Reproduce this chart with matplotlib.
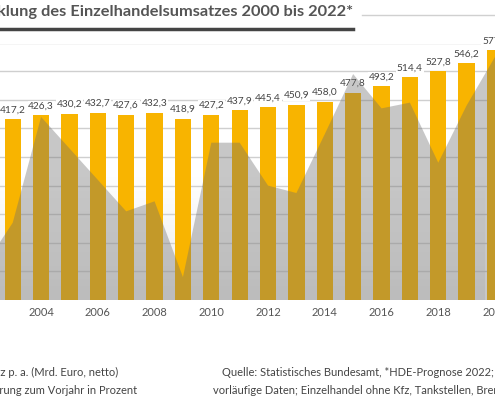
import matplotlib
matplotlib.use("Agg")
import matplotlib.pyplot as plt
import numpy as np

years = list(range(2003, 2021))
umsatz = [417.2, 426.3, 430.2, 432.7, 427.6, 432.3, 418.9, 427.2, 437.9, 445.4,
          450.9, 458.0, 477.8, 493.2, 514.4, 527.8, 546.2, 577.0]
pct_years = list(range(2002, 2022))
pct = [-2.3, -0.8, 2.9, 1.8, 0.7, -0.4, -0.05, -2.7, 2.0, 2.0, 0.5, 0.24,
       2.3, 4.4, 3.2, 3.4, 1.3, 3.3, 5.0, 0.9]
tick_years = list(range(2004, 2021, 2))

plt.rcParams['font.family'] = ['Lato', 'DejaVu Sans']
fig = plt.figure(figsize=(4.95, 4.0), dpi=100)
ax = fig.add_axes([0, 0.25, 1, 0.64])
x0 = 2003 - 13 / 29
x1 = x0 + 495 / 29
ax.set_xlim(x0, x1)
ax.set_ylim(0, 591)

grad = np.linspace(0, 1, 256).reshape(-1, 1)
ax.imshow(grad, extent=[x0, x1, 0, 300], origin='upper', aspect='auto',
          cmap=matplotlib.colors.LinearSegmentedColormap.from_list('g', ['#ffffff', '#ececec']),
          zorder=0)
for g in np.arange(66, 600, 66):
    ax.axhline(g, color='#cfcfcf', lw=1, zorder=1)

ax.bar(years, umsatz, width=0.575, color='#F8B400', zorder=2)
for yv, v in zip(years, umsatz):
    ax.annotate(f"{v:.1f}".replace('.', ','), (yv, v), xytext=(0, 3.5),
                textcoords='offset points', ha='center', va='bottom',
                fontsize=7.3, color='#444444', zorder=5,
                bbox=dict(facecolor='white', edgecolor='none', pad=0.5))

ax2 = ax.twinx()
ax2.set_ylim(-3.5, 5.45)
ax2.set_xlim(x0, x1)
ax2.fill_between(pct_years, pct, -3.5, color='#6e6e6e', alpha=0.38, lw=0, zorder=3)
ax2.axis('off')

ax.set_yticks([])
ax.set_xticks(tick_years)
ax.set_xticklabels([str(t) for t in tick_years], fontsize=8, color='#555555')
ax.tick_params(axis='x', length=0, pad=5)
for s in ax.spines.values():
    s.set_visible(False)

fig.text(353 / 495, 1 - 12 / 400, "Entwicklung des Einzelhandelsumsatzes 2000 bis 2022*",
         ha='right', va='center', fontsize=11.8, fontweight='bold', color='#555555')
fig.add_artist(plt.Line2D([0, 353 / 495], [1 - 29 / 400] * 2, color='#444444', lw=2.5))
fig.add_artist(plt.Line2D([362 / 495, 1], [1 - 15 / 400] * 2, color='#d0d0d0', lw=1))

fig.text(118 / 495, 1 - 372 / 400, "Umsatz p. a. (Mrd. Euro, netto)", ha='right', va='center',
         fontsize=8, color='#444444')
fig.text(137 / 495, 1 - 391 / 400, "Veränderung zum Vorjahr in Prozent", ha='right', va='center',
         fontsize=8, color='#444444')
fig.text(222 / 495, 1 - 372 / 400,
         "Quelle: Statistisches Bundesamt, *HDE-Prognose 2022; ohne Mehrwertsteuer",
         ha='left', va='center', fontsize=8, color='#444444')
fig.text(213 / 495, 1 - 391 / 400,
         "vorläufige Daten; Einzelhandel ohne Kfz, Tankstellen, Brennstoffe, Apotheken",
         ha='left', va='center', fontsize=8, color='#444444')

fig.savefig("out.png", dpi=100, facecolor='white')
